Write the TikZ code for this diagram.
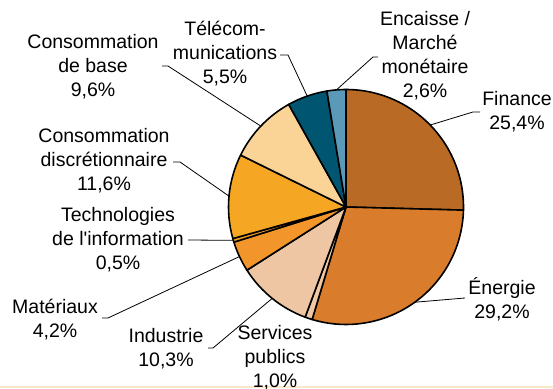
\documentclass[tikz,border=0pt]{standalone}
\usepackage{fontspec}
\setmainfont{Liberation Sans}[Ligatures=TeXOff]
\usetikzlibrary{calc}
\definecolor{cFin}{HTML}{B96A25}
\definecolor{cEne}{HTML}{D97C2B}
\definecolor{cSer}{HTML}{EFC7A3}
\definecolor{cInd}{HTML}{EFC6A3}
\definecolor{cMat}{HTML}{F2962C}
\definecolor{cTec}{HTML}{F5A023}
\definecolor{cDis}{HTML}{F5A723}
\definecolor{cBas}{HTML}{FAD496}
\definecolor{cTel}{HTML}{005670}
\definecolor{cEnc}{HTML}{5A99B7}
\definecolor{cStrip}{HTML}{FAE8C8}
\begin{document}
\begin{tikzpicture}[x=1pt,y=1pt,
  lbl/.style={align=center,inner sep=0pt,font=\fontsize{19.5}{24}\selectfont},
  slice/.style={draw=black,line width=1.6pt,line join=round},
  leader/.style={draw=black,line width=0.8pt}]
\useasboundingbox (0,0) rectangle (553,388);
\fill[cStrip] (0,0) rectangle (553,2);
\coordinate (C) at (346,181);
\def\R{117.5}
% slices
\filldraw[slice,fill=cFin] (C) -- ++(90:\R) arc[start angle=90,end angle=-1.53,radius=\R] -- cycle;
\filldraw[slice,fill=cEne] (C) -- ++(-1.53:\R) arc[start angle=-1.53,end angle=-106.76,radius=\R] -- cycle;
\filldraw[slice,fill=cSer] (C) -- ++(-106.76:\R) arc[start angle=-106.76,end angle=-110.36,radius=\R] -- cycle;
\filldraw[slice,fill=cInd] (C) -- ++(-110.36:\R) arc[start angle=-110.36,end angle=-147.48,radius=\R] -- cycle;
\filldraw[slice,fill=cMat] (C) -- ++(-147.48:\R) arc[start angle=-147.48,end angle=-162.61,radius=\R] -- cycle;
\filldraw[slice,fill=cTec] (C) -- ++(-162.61:\R) arc[start angle=-162.61,end angle=-164.41,radius=\R] -- cycle;
\filldraw[slice,fill=cDis] (C) -- ++(-164.41:\R) arc[start angle=-164.41,end angle=-206.22,radius=\R] -- cycle;
\filldraw[slice,fill=cBas] (C) -- ++(-206.22:\R) arc[start angle=-206.22,end angle=-240.81,radius=\R] -- cycle;
\filldraw[slice,fill=cTel] (C) -- ++(-240.81:\R) arc[start angle=-240.81,end angle=-260.63,radius=\R] -- cycle;
\filldraw[slice,fill=cEnc] (C) -- ++(-260.63:\R) arc[start angle=-260.63,end angle=-270,radius=\R] -- cycle;
% arc midpoints
\coordinate (mFin) at ($(C)+(44.235:\R)$);
\coordinate (mEne) at ($(C)+(-54.145:\R)$);
\coordinate (mInd) at ($(C)+(-128.92:\R)$);
\coordinate (mMat) at ($(C)+(-155.045:\R)$);
\coordinate (mTec) at ($(C)+(-163.51:\R)$);
\coordinate (mDis) at ($(C)+(-185.315:\R)$);
\coordinate (mBas) at ($(C)+(-223.515:\R)$);
\coordinate (mTel) at ($(C)+(-250.72:\R)$);
\coordinate (mEnc) at ($(C)+(-265.315:\R)$);
% labels
\node[lbl] (lFin) at (517,276) {Finance\\25,4\%};
\node[lbl] (lEne) at (502,88.5) {Énergie\\29,2\%};
\node[lbl] (lSer) at (275,30.5) {Services\\publics\\1,0\%};
\node[lbl] (lInd) at (166,39.5) {Industrie\\10,3\%};
\node[lbl] (lMat) at (55,68.5) {Matériaux\\4,2\%};
\node[lbl] (lTec) at (118,148.5) {Technologies\\de l'information\\0,5\%};
\node[lbl] (lDis) at (104,227) {Consommation\\discrétionnaire\\11,6\%};
\node[lbl] (lBas) at (93,321) {Consommation\\de base\\9,6\%};
\node[lbl] (lTel) at (225,334) {Télécom-\\munications\\5,5\%};
\node[lbl] (lEnc) at (425,332) {Encaisse /\\Marché\\monétaire\\2,6\%};
% leader start points
\coordinate (sFin) at (480,276);
\coordinate (kFin) at (473,276);
\coordinate (sEne) at (465,90);
\coordinate (sTec) at (188,148);
\coordinate (sDis) at (173,226);
\coordinate (kDis) at (180,226);
\coordinate (sBas) at (162,322);
\coordinate (kBas) at (168,322);
\coordinate (sTel) at (280,333);
\coordinate (kTel) at (288,333);
\coordinate (sEnc) at (378,331);
\coordinate (kEnc) at (373,331);
\coordinate (sMat) at (102,70);
\coordinate (kMat) at (108,70);
\coordinate (sInd) at (208,40);
\coordinate (kInd) at (213,40);
\draw[leader] (sFin) -- (kFin) -- (mFin);
\draw[leader] (sEne) -- (mEne);
\draw[leader] (sTec) -- (mTec);
\draw[leader] (sDis) -- (kDis) -- (mDis);
\draw[leader] (sBas) -- (kBas) -- (mBas);
\draw[leader] (sTel) -- (kTel) -- (mTel);
\draw[leader] (sEnc) -- (kEnc) -- (mEnc);
\draw[leader] (sMat) -- (kMat) -- (mMat);
\draw[leader] (sInd) -- (kInd) -- (mInd);
\end{tikzpicture}
\end{document}
